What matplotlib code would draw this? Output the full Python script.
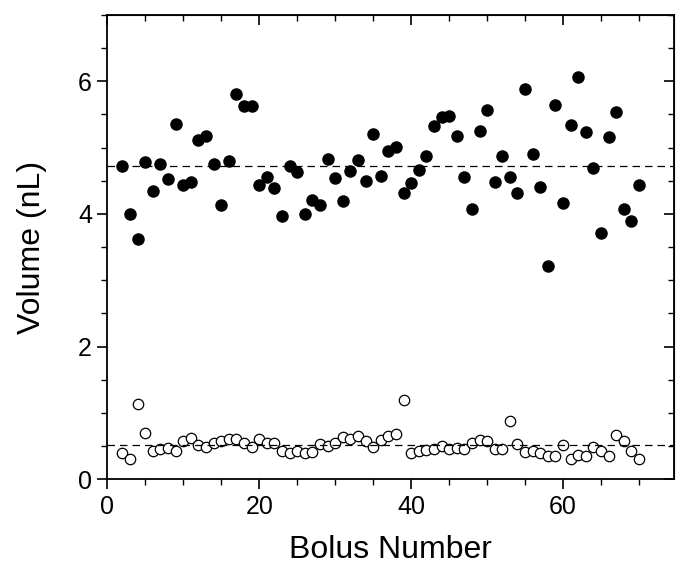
import matplotlib.pyplot as plt
from matplotlib.ticker import MultipleLocator

plt.rcParams['font.family'] = ['Liberation Sans', 'DejaVu Sans']

# bolus index
bolus = list(range(2, 71))

# filled circles (upper series)
vol_hi = [4.73, 4.00, 3.62, 4.79, 4.34, 4.75, 4.52, 5.36, 4.44, 4.48,
          5.11, 5.17, 4.75, 4.14, 4.80, 5.81, 5.63, 5.63, 4.44, 4.56,
          4.39, 3.97, 4.72, 4.63, 4.00, 4.21, 4.14, 4.83, 4.54, 4.20,
          4.65, 4.81, 4.49, 5.21, 4.57, 4.95, 5.01, 4.31, 4.47, 4.66,
          4.87, 5.32, 5.46, 5.47, 5.17, 4.56, 4.07, 5.25, 5.57, 4.48,
          4.87, 4.56, 4.32, 5.88, 4.91, 4.40, 3.21, 5.64, 4.17, 5.34,
          6.07, 5.24, 4.69, 3.72, 5.16, 5.53, 4.08, 3.90, 4.44]

# open circles (lower series)
vol_lo = [0.40, 0.31, 1.13, 0.70, 0.42, 0.46, 0.47, 0.42, 0.57, 0.63,
          0.52, 0.48, 0.54, 0.58, 0.60, 0.60, 0.54, 0.49, 0.60, 0.55,
          0.54, 0.43, 0.40, 0.42, 0.39, 0.41, 0.53, 0.50, 0.55, 0.64,
          0.61, 0.66, 0.57, 0.48, 0.59, 0.65, 0.68, 1.20, 0.40, 0.42,
          0.44, 0.46, 0.50, 0.46, 0.47, 0.46, 0.54, 0.59, 0.58, 0.45,
          0.45, 0.88, 0.53, 0.41, 0.43, 0.39, 0.35, 0.35, 0.52, 0.30,
          0.37, 0.35, 0.49, 0.43, 0.35, 0.67, 0.57, 0.43, 0.31]

mean_hi = 4.73
mean_lo = 0.516

fig = plt.figure(figsize=(6.76, 5.65), dpi=100)
ax = fig.add_axes([0.1587, 0.1517, 0.8383, 0.8218])

ax.plot(bolus, vol_hi, 'o', c='k', ms=8, ls='none')
ax.plot(bolus, vol_lo, 'o', mfc='white', mec='k', mew=0.9, ms=7.5, ls='none')
ax.axhline(mean_hi, c='k', lw=0.9, ls=(0, (6, 4)))
ax.axhline(mean_lo, c='k', lw=0.9, ls=(0, (6, 4)))

ax.set_xlim(0, 74.6)
ax.set_ylim(0, 7)
ax.xaxis.set_major_locator(MultipleLocator(20))
ax.xaxis.set_minor_locator(MultipleLocator(5))
ax.yaxis.set_major_locator(MultipleLocator(2))
ax.yaxis.set_minor_locator(MultipleLocator(0.5))
ax.tick_params(which='major', direction='out', length=7, width=1.2, labelsize=18, pad=4)
ax.tick_params(which='minor', direction='out', length=4, width=1.0)
for s in ax.spines.values():
    s.set_linewidth(1.3)

# mirrored ticks on top and right, pointing inward
top = ax.secondary_xaxis('top')
top.xaxis.set_major_locator(MultipleLocator(20))
top.xaxis.set_minor_locator(MultipleLocator(5))
top.tick_params(which='major', direction='in', length=7, width=1.2, labeltop=False)
top.tick_params(which='minor', direction='in', length=4, width=1.0)
right = ax.secondary_yaxis('right')
right.yaxis.set_major_locator(MultipleLocator(2))
right.yaxis.set_minor_locator(MultipleLocator(0.5))
right.tick_params(which='major', direction='in', length=7, width=1.2, labelright=False)
right.tick_params(which='minor', direction='in', length=4, width=1.0)

ax.set_xlabel('Bolus Number', fontsize=23, labelpad=12)
ax.set_ylabel('Volume (nL)', fontsize=23, labelpad=22)

fig.savefig('out.png', dpi=100)
